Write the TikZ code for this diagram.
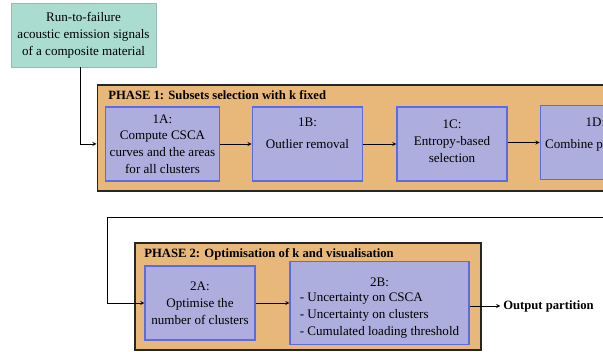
\documentclass[tikz,border=0pt]{standalone}
\usepackage{fontspec}
\setmainfont{Liberation Serif}
\usepackage{tikz}
\usetikzlibrary{positioning,arrows,calc}

\definecolor{srcgreen}{HTML}{AADDD0}
\definecolor{phaseorange}{HTML}{E8B87A}
\definecolor{steplav}{HTML}{ADAEDD}
\definecolor{stepblue}{HTML}{5B6BE8}

\begin{document}
\begin{tikzpicture}[
x=0.75pt,y=-0.75pt,
font=\fontsize{9.8}{12.6}\selectfont,
>=stealth,
srcbox/.style={
  fill=srcgreen,
  draw=srcgreen!85!black,
  line width=0.3pt,
  align=center,
  minimum width=108.75pt,
  minimum height=48pt},
phasebox/.style={
  fill=phaseorange,
  draw=black!85,
  line width=1pt},
stepbox/.style={
  fill=steplav,
  draw=stepblue,
  line width=0.8pt,
  align=center,
  minimum width=83pt,
  minimum height=55.5pt},
phasetitle/.style={
  font=\fontsize{9.5}{12}\selectfont\bfseries,
  anchor=west,
  inner sep=0pt}
]
\useasboundingbox (0,0) rectangle (603,352);
\clip (0,0) rectangle (603,352);

% input data
\node[srcbox] (src) at (83.5,35)
  {Run-to-failure\\acoustic emission signals\\of a composite material};

% phase 1
\node[phasebox, minimum width=452pt, minimum height=79.5pt] (phase1) at (398.5,138) {};
\node[phasetitle] (title1) at (108,95) {PHASE 1: Subsets selection with k fixed};
\node[stepbox] (A1) at (162.5,144)
  {1A:\\Compute CSCA\\curves and the areas\\for all clusters};
\node[stepbox] (B1) at (307.5,144) {1B:\\[4pt]Outlier removal\\[3pt]};
\node[stepbox, minimum width=82.5pt] (C1) at (452,144) {1C:\\Entropy-based\\selection\\[-8pt]};
\node[stepbox, minimum height=56pt] (D1) at (595.5,142.5) {1D:\\[4.5pt]Combine partitions\\[1.5pt]};

% phase 2
\node[phasebox, minimum width=259.5pt, minimum height=80.25pt] (phase2) at (308,296.5) {};
\node[phasetitle] (title2) at (144,254) {PHASE 2: Optimisation of k and visualisation};
\node[stepbox, minimum width=82.5pt] (A2) at (200,303)
  {2A:\\Optimise the\\number of clusters};
\node[stepbox, minimum width=134.25pt] (B2) at (379.5,303)
  {\\[3pt]2B:\\[1.5pt]\begin{tabular}{@{}l@{}}- Uncertainty on CSCA\\- Uncertainty on clusters\\- Cumulated loading threshold\end{tabular}};
\node[anchor=west, inner sep=0pt, font=\fontsize{9.5}{12}\selectfont\bfseries] (out) at (503,306) {Output partition};

% connectors
\coordinate (back) at (107,217);
\draw[->] ([xshift=-2.6pt]src.south) |- (phase1.west |- A1.east);
\draw[->] (A1) -- (B1);
\draw[->] (B1) -- (C1);
\draw[->] (C1.east |- D1.west) -- (D1.west);
\draw[->] (D1.east) -- ++(12,0) |- (back) |- (A2.west);
\draw[->] (A2) -- (B2);
\draw[->] (B2.east |- out.west) -- ([xshift=-2pt]out.west);
\end{tikzpicture}
\end{document}
